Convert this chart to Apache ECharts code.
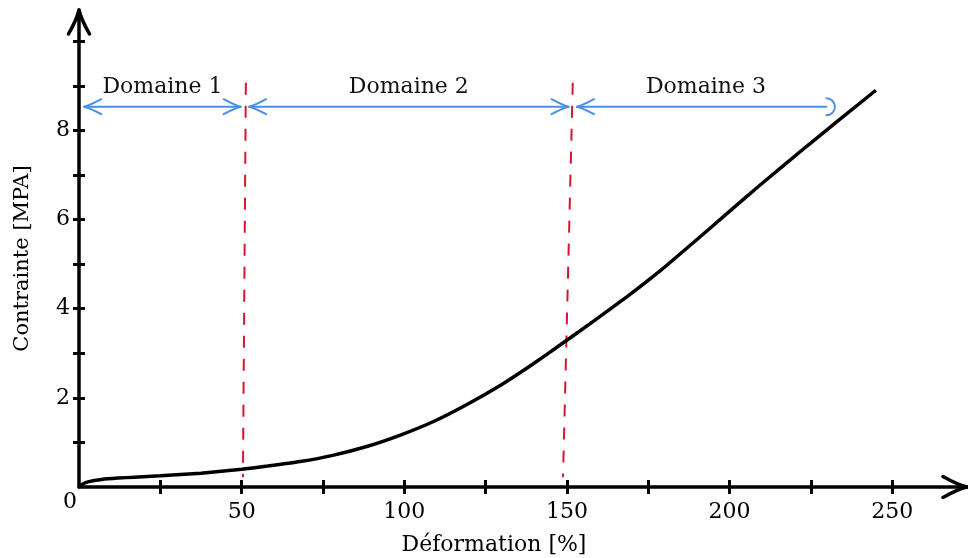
<!DOCTYPE html>
<html>
<head>
<meta charset="utf-8">
<script src="https://cdn.jsdelivr.net/npm/echarts@6/dist/echarts.min.js"></script>
<style>
html,body{margin:0;padding:0;background:#fff;}
#chart{width:968px;height:558px;}
</style>
</head>
<body>
<div id="chart"></div>
<script>
// ---- data ----
const strainValues = [0, 1, 3, 7, 12, 17, 25, 37.5, 50, 58, 68, 78, 89, 99, 109, 119, 130, 139, 148, 158, 168.5, 179, 189, 199, 209.5, 224, 245];
const stressValues = [0, 0.06, 0.12, 0.17, 0.20, 0.22, 0.25, 0.31, 0.40, 0.47, 0.57, 0.71, 0.92, 1.17, 1.47, 1.84, 2.30, 2.73, 3.19, 3.71, 4.27, 4.87, 5.49, 6.12, 6.78, 7.66, 8.90];

const domainNames = ['Domaine 1', 'Domaine 2', 'Domaine 3'];
const domainStart = [1.6, 52.3, 153.1];
const domainEnd = [49.7, 150.5, 232.4];
const domainLevel = 8.53;
const domainEndHook = [0, 0, 1];

const boundary1X = [51.3, 50.4];
const boundary2X = [151.8, 148.8];
const boundaryY = [9.07, 0.22];

const xTickValues = [25, 50, 75, 100, 125, 150, 175, 200, 225, 250];
const xLabelValues = [50, 100, 150, 200, 250];
const yTickValues = [1, 2, 3, 4, 5, 6, 7, 8, 9, 10];
const yLabelValues = [0, 2, 4, 6, 8];
const xMax = 273;
const yMax = 10.7;

const xTitle = 'Déformation [%]';
const yTitle = 'Contrainte [MPA]';

// ---- chart ----
const FONT = 'DejaVu Serif';
const chart = echarts.init(document.getElementById('chart'), null, {renderer: 'canvas'});

const axisColor = '#000';
const blue = '#4A90E2';
const red = '#D7152F';

function renderDomain(params, api) {
  const i = params.dataIndex;
  const y = api.value(2);
  const p1 = api.coord([api.value(0), y]);
  const p2 = api.coord([api.value(1), y]);
  const hook = api.value(3) === 1;
  const L = 17, W = 7.5, R = 8.5;
  const st = {stroke: blue, fill: 'none', lineWidth: 2, lineJoin: 'round', lineCap: 'round'};
  const children = [];
  const lineEnd = hook ? p2[0] - R : p2[0];
  children.push({type: 'line', shape: {x1: p1[0], y1: p1[1], x2: lineEnd, y2: p2[1]}, style: st});
  children.push({type: 'path', shape: {pathData: 'M' + (p1[0] + L) + ' ' + (p1[1] - W) + ' Q' + (p1[0] + 6) + ' ' + (p1[1] - 1.5) + ' ' + p1[0] + ' ' + p1[1] + ' Q' + (p1[0] + 6) + ' ' + (p1[1] + 1.5) + ' ' + (p1[0] + L) + ' ' + (p1[1] + W)}, style: st});
  if (hook) {
    children.push({type: 'arc', shape: {cx: p2[0] - R, cy: p2[1], r: R, startAngle: -Math.PI / 2, endAngle: Math.PI / 2, clockwise: true}, style: st});
  } else {
    children.push({type: 'path', shape: {pathData: 'M' + (p2[0] - L) + ' ' + (p2[1] - W) + ' Q' + (p2[0] - 6) + ' ' + (p2[1] - 1.5) + ' ' + p2[0] + ' ' + p2[1] + ' Q' + (p2[0] - 6) + ' ' + (p2[1] + 1.5) + ' ' + (p2[0] - L) + ' ' + (p2[1] + W)}, style: st});
  }
  children.push({type: 'text', x: (p1[0] + p2[0]) / 2, y: p1[1] - 19,
    style: {text: domainNames[i], fill: '#111', fontSize: 22, fontFamily: FONT, align: 'center', verticalAlign: 'middle'}});
  return {type: 'group', children: children};
}

function renderAxisArrow(params, api) {
  const p = api.coord([api.value(0), api.value(1)]);
  const dir = api.value(2);
  const L = 24, W = 10.5;
  let d;
  if (dir === 0) {
    d = 'M' + (p[0] - L) + ' ' + (p[1] - W) + ' Q' + (p[0] - 9) + ' ' + (p[1] - 2) + ' ' + p[0] + ' ' + p[1] +
        ' Q' + (p[0] - 9) + ' ' + (p[1] + 2) + ' ' + (p[0] - L) + ' ' + (p[1] + W);
  } else {
    d = 'M' + (p[0] - W) + ' ' + (p[1] + L) + ' Q' + (p[0] - 2) + ' ' + (p[1] + 9) + ' ' + p[0] + ' ' + p[1] +
        ' Q' + (p[0] + 2) + ' ' + (p[1] + 9) + ' ' + (p[0] + W) + ' ' + (p[1] + L);
  }
  return {type: 'path', shape: {pathData: d}, style: {stroke: axisColor, fill: 'none', lineWidth: 3.5, lineJoin: 'round', lineCap: 'round'}};
}

const tickStyle = {color: axisColor, width: 3};

const option = {
  animation: false,
  backgroundColor: '#fff',
  grid: {left: 79, right: 1, top: 10, bottom: 71, containLabel: false, outerBoundsMode: 'none'},
  xAxis: [
    {
      type: 'value', min: 0, max: xMax, position: 'bottom',
      axisLine: {show: true, onZero: false, lineStyle: {color: axisColor, width: 3.5}},
      axisTick: {show: true, inside: false, length: 7, lineStyle: tickStyle, customValues: xTickValues},
      axisLabel: {customValues: xLabelValues, margin: 14, fontFamily: FONT, fontSize: 22, color: '#000'},
      splitLine: {show: false},
      name: xTitle, nameLocation: 'middle', nameGap: 47,
      nameTextStyle: {fontFamily: FONT, fontSize: 22, color: '#000', padding: [0, 58, 0, 0]}
    },
    {
      type: 'value', min: 0, max: xMax, position: 'top',
      axisLine: {show: false, onZero: true},
      axisTick: {show: true, inside: false, length: 7, lineStyle: tickStyle, customValues: xTickValues},
      axisLabel: {show: false},
      splitLine: {show: false}
    }
  ],
  yAxis: [
    {
      type: 'value', min: 0, max: yMax, position: 'left',
      axisLine: {show: true, onZero: false, lineStyle: {color: axisColor, width: 3.5}},
      axisTick: {show: true, inside: false, length: 6, lineStyle: tickStyle, customValues: yTickValues},
      axisLabel: {
        customValues: yLabelValues, margin: 2, fontFamily: FONT, fontSize: 22, color: '#000',
        formatter: function (v) { return v === 0 ? '{z|0}' : '{n|' + v + '}'; },
        rich: {
          n: {fontFamily: FONT, fontSize: 22, color: '#000', padding: [0, 7, 0, 0]},
          z: {fontFamily: FONT, fontSize: 22, color: '#000', padding: [30, 0, 0, 0]}
        }
      },
      splitLine: {show: false},
      name: yTitle, nameLocation: 'middle', nameGap: 46,
      nameTextStyle: {fontFamily: FONT, fontSize: 21, color: '#000', padding: [0, 20, 0, 0]}
    },
    {
      type: 'value', min: 0, max: yMax, position: 'right',
      axisLine: {show: false, onZero: true},
      axisTick: {show: true, inside: false, length: 6, lineStyle: tickStyle, customValues: yTickValues},
      axisLabel: {show: false},
      splitLine: {show: false}
    }
  ],
  series: [
    {
      type: 'line', name: 'boundary1', xAxisIndex: 0, yAxisIndex: 0,
      data: boundary1X.map(function (x, i) { return [x, boundaryY[i]]; }),
      showSymbol: false, symbol: 'none', silent: true,
      lineStyle: {color: red, width: 2, type: [12, 11]}
    },
    {
      type: 'line', name: 'boundary2', xAxisIndex: 0, yAxisIndex: 0,
      data: boundary2X.map(function (x, i) { return [x, boundaryY[i]]; }),
      showSymbol: false, symbol: 'none', silent: true,
      lineStyle: {color: red, width: 2, type: [12, 11]}
    },
    {
      type: 'line', name: 'courbe', xAxisIndex: 0, yAxisIndex: 0,
      data: strainValues.map(function (x, i) { return [x, stressValues[i]]; }),
      showSymbol: false, symbol: 'none', smooth: 0.15, silent: true,
      lineStyle: {color: '#000', width: 3.5}, z: 5
    },
    {
      type: 'custom', name: 'domaines', xAxisIndex: 0, yAxisIndex: 0,
      data: domainNames.map(function (n, i) { return [domainStart[i], domainEnd[i], domainLevel, domainEndHook[i]]; }),
      encode: {x: [0, 1], y: 2},
      renderItem: renderDomain, silent: true, clip: false
    },
    {
      type: 'custom', name: 'axisArrows', xAxisIndex: 0, yAxisIndex: 0,
      data: [[xMax, 0, 0], [0, yMax, 1]],
      encode: {x: 0, y: 1},
      renderItem: renderAxisArrow, silent: true, clip: false, z: 6
    }
  ]
};
chart.setOption(option);
</script>
</body>
</html>
